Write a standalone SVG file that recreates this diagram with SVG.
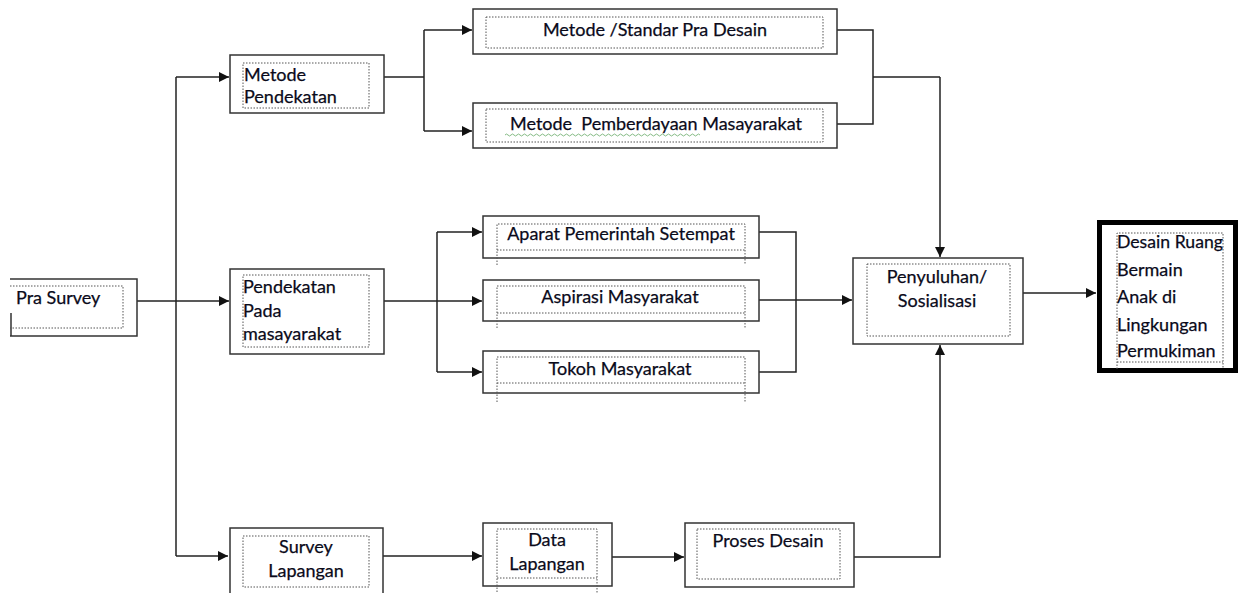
<svg xmlns="http://www.w3.org/2000/svg" width="1238" height="593" viewBox="0 0 1238 593">
<style>
.box{fill:#fff;stroke:#333;stroke-width:1.5}
.dot{fill:none;stroke:#555;stroke-width:1;stroke-dasharray:1.5 1.5}
.ln{fill:none;stroke:#222;stroke-width:1.5}
.t{font-family:Lato,"Liberation Sans",sans-serif;font-size:18px;fill:#0a0a1a;stroke:#0a0a1a;stroke-width:0.25}
.c{text-anchor:middle}
</style>
<defs>
<marker id="ar" viewBox="0 0 10 10" refX="10" refY="5" markerWidth="10" markerHeight="10" markerUnits="userSpaceOnUse" orient="auto">
<path d="M0,0 L10,5 L0,10 z" fill="#111"/>
</marker>
</defs>
<rect width="1238" height="593" fill="#fff"/>
<g id="connectors">
<path class="ln" d="M137,301 H229" marker-end="url(#ar)"/>
<path class="ln" d="M176,77 V556"/>
<path class="ln" d="M176,77 H229" marker-end="url(#ar)"/>
<path class="ln" d="M176,556 H228" marker-end="url(#ar)"/>
<path class="ln" d="M384,77 H424 M424,30 V131"/>
<path class="ln" d="M424,30 H472" marker-end="url(#ar)"/>
<path class="ln" d="M424,131 H472" marker-end="url(#ar)"/>
<path class="ln" d="M837,30 H873 V124 H837 M873,77 H940"/>
<path class="ln" d="M940,77 V257" marker-end="url(#ar)"/>
<path class="ln" d="M384,301 H482" marker-end="url(#ar)"/>
<path class="ln" d="M437,232 V372"/>
<path class="ln" d="M437,232 H482" marker-end="url(#ar)"/>
<path class="ln" d="M437,372 H482" marker-end="url(#ar)"/>
<path class="ln" d="M759,232 H796 V372 H759"/>
<path class="ln" d="M759,300 H852" marker-end="url(#ar)"/>
<path class="ln" d="M1023,293 H1096" marker-end="url(#ar)"/>
<path class="ln" d="M383,556 H482" marker-end="url(#ar)"/>
<path class="ln" d="M612,557 H684" marker-end="url(#ar)"/>
<path class="ln" d="M854,557 H940 V345" marker-end="url(#ar)"/>
</g>
<g id="pra-survey">
<path fill="#fff" stroke="#333" stroke-width="1.5" d="M10,279 H137 V336 H10 M11,313 V336"/>
<path class="dot" d="M10,286 H123 V328 H10"/>
<text class="t" x="16" y="304">Pra Survey</text>
</g>
<g id="metode-pendekatan">
<rect class="box" x="230" y="55" width="154" height="58"/>
<rect class="dot" x="243" y="63" width="126" height="45"/>
<text class="t" x="244" y="81">Metode</text>
<text class="t" x="244" y="103">Pendekatan</text>
</g>
<g id="metode-standar">
<rect class="box" x="473" y="9" width="364" height="45"/>
<rect class="dot" x="486" y="17" width="337" height="31"/>
<text class="t c" x="655" y="36">Metode /Standar Pra Desain</text>
</g>
<g id="metode-pemberdayaan">
<rect class="box" x="473" y="103" width="364" height="45"/>
<rect class="dot" x="486" y="109" width="337" height="33"/>
<text class="t c" x="656" y="130" style="white-space:pre" xml:space="preserve">Metode  Pemberdayaan Masayarakat</text>
<path d="M505,135 q1.5,-2 3,0 t3,0 t3,0 t3,0 t3,0 t3,0 t3,0 t3,0 t3,0 t3,0 t3,0 t3,0 t3,0 t3,0 t3,0 t3,0 t3,0 t3,0 t3,0 t3,0 t3,0 t3,0 t3,0 t3,0 t3,0 t3,0 t3,0 t3,0 t3,0 t3,0 t3,0 t3,0 t3,0 t3,0 t3,0 t3,0 t3,0 t3,0 t3,0 t3,0 t3,0 t3,0 t3,0 t3,0 t3,0 t3,0 t3,0 t3,0 t3,0 t3,0 t3,0 t3,0 t3,0 t3,0 t3,0 t3,0 t3,0 t3,0 t3,0 t3,0 t3,0 t3,0 t3,0 t3,0 t3,0" fill="none" stroke="#6a6" stroke-width="0.8"/>
</g>
<g id="pendekatan-masyarakat">
<rect class="box" x="230" y="269" width="154" height="85"/>
<rect class="dot" x="243" y="275" width="126" height="72"/>
<text class="t" x="243" y="293">Pendekatan</text>
<text class="t" x="243" y="317">Pada</text>
<text class="t" x="243" y="340">masayarakat</text>
</g>
<g id="aparat">
<rect class="box" x="483" y="216" width="276" height="42"/>
<path class="dot" d="M497,265 V224 H745 V265 M497,250 H745"/>
<text class="t c" x="621" y="240">Aparat Pemerintah Setempat</text>
</g>
<g id="aspirasi">
<rect class="box" x="483" y="280" width="276" height="41"/>
<path class="dot" d="M497,328 V286 H745 V328 M497,313 H745"/>
<text class="t c" x="620" y="303">Aspirasi Masyarakat</text>
</g>
<g id="tokoh">
<rect class="box" x="483" y="351" width="276" height="42"/>
<path class="dot" d="M497,402 V357 H745 V402 M497,383 H745"/>
<text class="t c" x="620" y="375">Tokoh Masyarakat</text>
</g>
<g id="penyuluhan">
<rect class="box" x="853" y="258" width="170" height="86"/>
<rect class="dot" x="867" y="264" width="143" height="72"/>
<text class="t c" x="937" y="283">Penyuluhan/</text>
<text class="t c" x="937" y="307">Sosialisasi</text>
</g>
<g id="desain-ruang">
<rect x="1099.5" y="222.5" width="136" height="148" fill="#fff" stroke="#000" stroke-width="5"/>
<path class="dot" d="M1117,369 V233 H1223 V369 M1117,362 H1223"/>
<text class="t" x="1117" y="248" textLength="106" lengthAdjust="spacingAndGlyphs">Desain Ruang</text>
<text class="t" x="1117" y="276">Bermain</text>
<text class="t" x="1117" y="303">Anak di</text>
<text class="t" x="1117" y="331">Lingkungan</text>
<text class="t" x="1117" y="357">Permukiman</text>
</g>
<g id="survey-lapangan">
<rect class="box" x="230" y="528" width="153" height="70"/>
<rect class="dot" x="243" y="536" width="126" height="51"/>
<text class="t c" x="306" y="553">Survey</text>
<text class="t c" x="306" y="577">Lapangan</text>
</g>
<g id="data-lapangan">
<rect class="box" x="483" y="523" width="129" height="63"/>
<path class="dot" d="M497,595 V529 H597 V595 M497,578 H597"/>
<text class="t c" x="547" y="546">Data</text>
<text class="t c" x="547" y="570">Lapangan</text>
</g>
<g id="proses-desain">
<rect class="box" x="685" y="523" width="169" height="64"/>
<rect class="dot" x="697" y="529" width="143" height="50"/>
<text class="t c" x="768" y="547">Proses Desain</text>
</g>
</svg>
